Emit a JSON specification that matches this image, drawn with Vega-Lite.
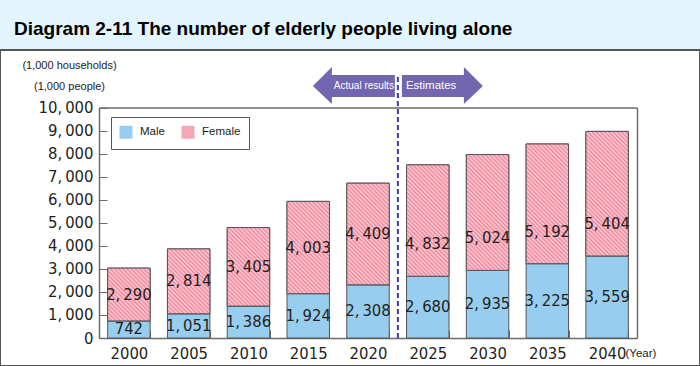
{
  "$schema": "https://vega.github.io/schema/vega-lite/v6.json",
  "width": 700,
  "height": 316,
  "autosize": {"type": "none"},
  "padding": {"left": 0, "top": 50, "right": 0, "bottom": 0},
  "background": "#e2f4fc",
  "title": {
    "text": "Diagram 2-11 The number of elderly people living alone",
    "anchor": "start", "frame": "group", "orient": "top",
    "dx": 14, "offset": -3.5, "baseline": "alphabetic",
    "font": "Liberation Sans", "fontSize": 19, "fontWeight": "bold", "color": "#000000"
  },
  "config": {
    "view": {"fill": "white", "stroke": "#555555", "strokeWidth": 2},
    "font": "Liberation Sans"
  },
  "resolve": {"axis": {"x": "independent", "y": "independent"}},
  "data": {
    "values": [
      {"year": 2000, "sex": "Male", "value": 742},
      {"year": 2000, "sex": "Female", "value": 2290},
      {"year": 2005, "sex": "Male", "value": 1051},
      {"year": 2005, "sex": "Female", "value": 2814},
      {"year": 2010, "sex": "Male", "value": 1386},
      {"year": 2010, "sex": "Female", "value": 3405},
      {"year": 2015, "sex": "Male", "value": 1924},
      {"year": 2015, "sex": "Female", "value": 4003},
      {"year": 2020, "sex": "Male", "value": 2308},
      {"year": 2020, "sex": "Female", "value": 4409},
      {"year": 2025, "sex": "Male", "value": 2680},
      {"year": 2025, "sex": "Female", "value": 4832},
      {"year": 2030, "sex": "Male", "value": 2935},
      {"year": 2030, "sex": "Female", "value": 5024},
      {"year": 2035, "sex": "Male", "value": 3225},
      {"year": 2035, "sex": "Female", "value": 5192},
      {"year": 2040, "sex": "Male", "value": 3559},
      {"year": 2040, "sex": "Female", "value": 5404}
    ]
  },
  "layer": [
    {
      "mark": {"type": "bar", "stroke": "#555555", "strokeWidth": 1},
      "encoding": {
        "x": {
          "field": "year", "type": "ordinal",
          "scale": {"range": [99, 637], "paddingInner": 0.29, "paddingOuter": 0.145},
          "axis": {
            "orient": "bottom", "offset": -28, "grid": false,
            "labelAngle": 0, "labelFont": "DejaVu Sans Condensed", "labelFontSize": 16.5,
            "labelColor": "#231f20", "labelPadding": 23, "labelBaseline": "middle",
            "tickBand": "extent", "tickSize": -8, "tickColor": "#6b6b6b", "tickWidth": 1,
            "domainColor": "#6b6b6b", "domainWidth": 1.5,
            "title": "(Year)", "titleX": 625, "titleY": 18, "titleAlign": "left",
            "titleBaseline": "alphabetic", "titleFont": "Liberation Sans", "titleFontSize": 11.5,
            "titleFontWeight": "normal", "titleColor": "#222222"
          }
        },
        "y": {
          "field": "value", "type": "quantitative", "stack": "zero",
          "scale": {"domain": [0, 10000], "range": [288, 57.5], "nice": false},
          "axis": {
            "orient": "left", "offset": -99, "grid": false,
            "values": [0, 1000, 2000, 3000, 4000, 5000, 6000, 7000, 8000, 9000, 10000],
            "labelExpr": "replace(format(datum.value, ','), ',', ',\u2009')",
            "labelFont": "DejaVu Sans Condensed", "labelFontSize": 16.5, "labelColor": "#231f20",
            "labelPadding": 14,
            "tickSize": -8, "tickColor": "#6b6b6b", "tickWidth": 1,
            "domainColor": "#6b6b6b", "domainWidth": 1.5,
            "title": ["(1,000 households)", "(1,000 people)"],
            "titleAngle": 0, "titleAlign": "center", "titleBaseline": "alphabetic",
            "titleX": -30, "titleY": 18, "titleLineHeight": 21,
            "titleFont": "Liberation Sans", "titleFontSize": 11, "titleFontWeight": "normal",
            "titleColor": "#222222"
          }
        },
        "order": {"field": "sex", "sort": "descending"},
        "color": {
          "field": "sex", "type": "nominal",
          "scale": {"domain": ["Male", "Female"], "range": ["#97cdef", "#f4a7b6"]},
          "legend": {
            "orient": "none", "legendX": 111, "legendY": 67,
            "direction": "horizontal", "columns": 2, "title": null,
            "fillColor": "white", "strokeColor": "#555555", "padding": 8,
            "symbolType": "square", "symbolSize": 169,
            "symbolStrokeColor": "#555555", "symbolStrokeWidth": 1, "symbolOpacity": 1,
            "labelFont": "Liberation Sans", "labelFontSize": 11.5, "labelColor": "#222222",
            "labelOffset": 7, "columnPadding": 14,
            "encode": {
              "symbols": {
                "update": {
                  "fill": {"signal": "datum.value === 'Female' ? gradient('stroke', [0, 1], [3.2, -2.2], 80) : '#97cdef'"}
                }
              }
            }
          }
        }
      }
    },
    {
      "mark": {
        "type": "bar", "stroke": "#555555", "strokeWidth": 1,
        "fill": {"expr": "gradient('stroke', [0, 1], [168*bandwidth('x')/(pow(bandwidth('x'),2)+pow(scale('y',datum.value_start)-scale('y',datum.value_end),2)), 1-168*(scale('y',datum.value_start)-scale('y',datum.value_end))/(pow(bandwidth('x'),2)+pow(scale('y',datum.value_start)-scale('y',datum.value_end),2))], 80)"}
      },
      "encoding": {
        "x": {"field": "year", "type": "ordinal", "axis": null},
        "y": {"field": "value", "type": "quantitative", "stack": "zero", "axis": null},
        "detail": {"field": "sex"},
        "order": {"field": "sex", "sort": "descending"},
        "opacity": {"condition": {"test": "datum.sex === 'Male'", "value": 0}, "value": 1}
      }
    },
    {
      "mark": {"type": "text", "font": "DejaVu Sans Condensed", "fontSize": 16.5, "color": "#231f20", "baseline": "middle"},
      "encoding": {
        "x": {"field": "year", "type": "ordinal", "axis": null},
        "y": {"field": "value", "type": "quantitative", "stack": "zero", "bandPosition": 0.5, "axis": null},
        "detail": {"field": "sex"},
        "order": {"field": "sex", "sort": "descending"},
        "text": {"value": {"expr": "replace(format(datum.value, ','), ',', ',\u2009')"}},
        "opacity": {"condition": {"test": "datum.sex === 'Female' && datum.year >= 2025", "value": 0}, "value": 1}
      }
    },
    {
      "mark": {"type": "text", "font": "DejaVu Sans Condensed", "fontSize": 16.5, "color": "#231f20", "baseline": "middle", "dy": -32},
      "encoding": {
        "x": {"field": "year", "type": "ordinal", "axis": null},
        "y": {"field": "value", "type": "quantitative", "stack": "zero", "bandPosition": 0, "axis": null},
        "detail": {"field": "sex"},
        "order": {"field": "sex", "sort": "descending"},
        "text": {"value": {"expr": "replace(format(datum.value, ','), ',', ',\u2009')"}},
        "opacity": {"condition": {"test": "datum.sex === 'Female' && datum.year >= 2025", "value": 1}, "value": 0}
      }
    },
    {
      "mark": {"type": "point", "opacity": 0},
      "encoding": {
        "x": {
          "field": "year", "type": "ordinal",
          "axis": {"orient": "top", "offset": -57.5, "labels": false, "ticks": false, "grid": false, "title": null, "domainColor": "#6b6b6b", "domainWidth": 1.5}
        },
        "y": {
          "field": "value", "type": "quantitative",
          "axis": {"orient": "right", "offset": -63, "labels": false, "ticks": false, "grid": false, "title": null, "domainColor": "#6b6b6b", "domainWidth": 1.5}
        },
        "stroke": {
          "field": "value", "type": "quantitative", "legend": null,
          "scale": {
            "nice": false, "zero": false,
            "domain": [0,1,2,3,4,5,6,7,8,9,10,11,12,13,14,15,16,17,18,19,20,21,22,23,24,25,26,27,28,29,30,31,32,33,34,35,36,37,38,39,40,41,42,43,44,45,46,47,48,49,50,51,52,53,54,55,56,57,58,59,60,61,62,63,64,65,66,67,68,69,70,71,72,73,74,75,76,77,78,79,80],
            "range": [
              "#f0849a","#fccfd8","#f0849a","#fccfd8","#f0849a","#fccfd8","#f0849a","#fccfd8","#f0849a","#fccfd8",
              "#f0849a","#fccfd8","#f0849a","#fccfd8","#f0849a","#fccfd8","#f0849a","#fccfd8","#f0849a","#fccfd8",
              "#f0849a","#fccfd8","#f0849a","#fccfd8","#f0849a","#fccfd8","#f0849a","#fccfd8","#f0849a","#fccfd8",
              "#f0849a","#fccfd8","#f0849a","#fccfd8","#f0849a","#fccfd8","#f0849a","#fccfd8","#f0849a","#fccfd8",
              "#f0849a","#fccfd8","#f0849a","#fccfd8","#f0849a","#fccfd8","#f0849a","#fccfd8","#f0849a","#fccfd8",
              "#f0849a","#fccfd8","#f0849a","#fccfd8","#f0849a","#fccfd8","#f0849a","#fccfd8","#f0849a","#fccfd8",
              "#f0849a","#fccfd8","#f0849a","#fccfd8","#f0849a","#fccfd8","#f0849a","#fccfd8","#f0849a","#fccfd8",
              "#f0849a","#fccfd8","#f0849a","#fccfd8","#f0849a","#fccfd8","#f0849a","#fccfd8","#f0849a","#fccfd8",
              "#f0849a"
            ]
          }
        }
      }
    },
    {
      "data": {"values": [{"boundary": "2020/2025"}]},
      "mark": {"type": "rule", "color": "#3c3f9e", "strokeWidth": 2, "strokeDash": [5, 3]},
      "encoding": {
        "x": {"datum": 2020, "type": "ordinal", "bandPosition": 1.204, "axis": null},
        "y": {"datum": 0, "type": "quantitative", "axis": null},
        "y2": {"datum": 11410}
      }
    },
    {
      "data": {"values": [{"boundary": "2020/2025"}]},
      "mark": {
        "type": "point", "filled": true, "opacity": 1, "size": 4, "strokeWidth": 0,
        "color": "#7266b0",
        "shape": "M-85,0L-66,-19L-66,-11L-3,-11L-3,11L-66,11L-66,18Z M85,0L66,-19L66,-11L4,-11L4,11L66,11L66,18Z"
      },
      "encoding": {
        "x": {"datum": 2020, "type": "ordinal", "bandPosition": 1.204, "axis": null},
        "y": {"datum": 10933, "type": "quantitative", "axis": null}
      }
    },
    {
      "data": {"values": [{"label": "Actual results"}]},
      "mark": {"type": "text", "font": "Liberation Sans", "fontSize": 10, "color": "white", "align": "center", "baseline": "middle", "dx": -34},
      "encoding": {
        "x": {"datum": 2020, "type": "ordinal", "bandPosition": 1.204, "axis": null},
        "y": {"datum": 10933, "type": "quantitative", "axis": null},
        "text": {"field": "label"}
      }
    },
    {
      "data": {"values": [{"label": "Estimates"}]},
      "mark": {"type": "text", "font": "Liberation Sans", "fontSize": 11.5, "color": "white", "align": "left", "baseline": "middle", "dx": 8},
      "encoding": {
        "x": {"datum": 2020, "type": "ordinal", "bandPosition": 1.204, "axis": null},
        "y": {"datum": 10933, "type": "quantitative", "axis": null},
        "text": {"field": "label"}
      }
    }
  ]
}
